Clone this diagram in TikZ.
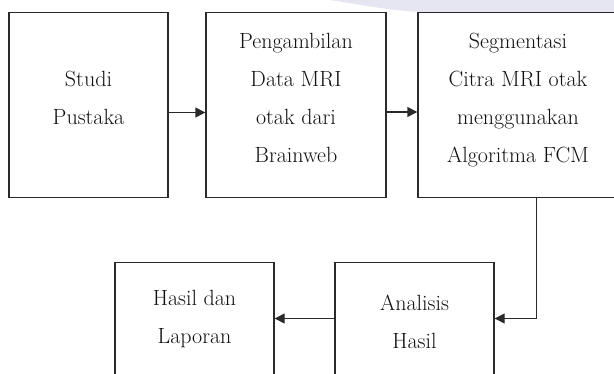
\documentclass[tikz,border=0pt]{standalone}
\usepackage{xcolor}
\usepackage{tikz}
\usetikzlibrary{arrows.meta,positioning}
\definecolor{inkdark}{HTML}{111111}
\definecolor{linedark}{HTML}{2A2A2A}
\definecolor{wmark}{HTML}{E6E6F2}

\begin{document}
\begin{tikzpicture}[x=1pt, y=-1pt, every node/.style={font=\fontsize{22}{38}\selectfont, text=inkdark}, proc/.style={draw=linedark, line width=1.4pt, align=center, fill=white, minimum width=159pt, minimum height=185pt, inner sep=0pt}, flow/.style={draw=linedark, line width=1.4pt, -{Triangle[length=10pt,width=10pt]}}]
\useasboundingbox (0,0) rectangle (614,374);
\clip (0,0) rectangle (614,374);
\fill[wmark] (330,0) .. controls (380,8) and (400,12) .. (430,12) -- (614,12) -- (614,0) -- cycle;
\node[proc, text depth=14pt] (p1) at (88.5,105) {Studi\\Pustaka};
\node[proc, text depth=14pt, minimum width=180pt] (p2) at (296,105) {Pengambilan\\Data MRI\\otak dari\\Brainweb};
\node[proc, text depth=14pt, minimum width=200pt] (p3) at (518,105) {Segmentasi\\Citra MRI otak\\menggunakan\\Algoritma FCM};
\node[proc, minimum height=118pt] (p4) at (414.5,321.7) {Analisis\\Hasil};
\node[proc, text depth=9pt, minimum height=118pt] (p5) at (194.5,321.7) {Hasil dan\\Laporan};
\draw[flow] ([yshift=-7.5pt]p1.east) -- ([yshift=-7.5pt]p2.west);
\draw[flow] ([yshift=-7pt]p2.east) -- ([yshift=-7pt]p3.west);
\draw[flow] ([xshift=18.7pt]p3.south) |- ([yshift=3.2pt]p4.east);
\draw[flow] ([yshift=3.2pt]p4.west) -- ([yshift=3.2pt]p5.east);
\end{tikzpicture}
\end{document}
